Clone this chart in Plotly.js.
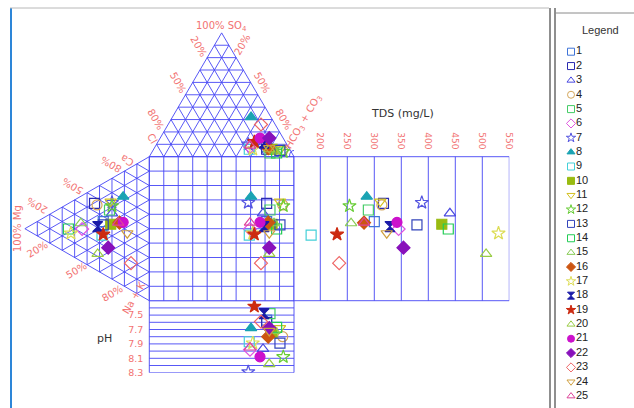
<!DOCTYPE html>
<html><head><meta charset="utf-8">
<script src="https://cdn.plot.ly/plotly-3.0.1.min.js"></script>
<style>html,body{margin:0;padding:0;background:#fff}#chart{width:634px;height:408px}</style>
</head><body><div id="chart"></div>
<script>
// ---- data (percent of meq, TDS mg/L, pH) ----
const samples = ['1','2','3','4','5','6','7','8','9','10','11','12','13','14','15','16','17','18','19','20','21','22','23','24','25'];
const hco3 = [77.1,78.1,73.6,89.7,81.9,65.6,63.4,54.3,66.1,81.8,87.3,90.6,87.8,86.5,83.7,78.7,68.5,73.8,66.6,79.9,69.0,75.4,64.2,79.4,65.1];
const so4  = [8,6,10,5,3,8,10,32,6,6,6,4,5,3,5,7,6,11,12,6,15,15,26,7,9];
const cl   = [14.9,15.9,16.4,5.3,15.1,26.4,26.6,13.7,27.9,12.2,6.7,5.4,7.2,10.5,11.3,14.3,25.5,15.2,21.4,14.1,16.0,9.6,9.8,13.6,25.9];
const ca   = [36.4,45.6,45.7,45.5,47.0,22.8,53.1,61.7,26.6,37.6,53.3,50.8,34.1,17.3,26.3,42.2,15.3,30.7,27.6,11.7,43.9,20.3,18.7,38.0,41.7];
const mg   = [37,44,30,42,32,54,30,21,38,31,31,30,37,65,55,24,63,41.5,37,41.5,21,33,14.7,17.7,25];
const nak  = [26.6,10.4,24.3,12.5,21.0,23.2,16.9,17.3,35.4,31.4,15.7,19.2,28.9,17.7,18.7,33.8,21.7,27.8,35.4,46.8,35.1,46.7,66.6,44.3,33.3];
const tds  = [300,317,440,314,289,345,388,286,183,425,311,254,379,437,257,281,530,329,231,507,342,354,235,323,281];
const ph   = [7.57,7.60,7.97,7.80,7.48,7.98,8.29,7.68,7.87,7.75,7.68,8.08,7.89,7.67,7.72,7.80,7.89,7.48,7.38,8.18,8.08,7.68,7.59,7.72,7.95];
const tdsTicks = [200,250,300,350,400,450,500,550];
const phTicks = [7.5,7.7,7.9,8.1,8.3];

// ---- styles ----
const symbols = ['square-open','square-open','triangle-up-open','circle-open','square-open','diamond-open','star-open','triangle-up','square-open','square',
  'triangle-down-open','star-open','square-open','square-open','triangle-up-open','diamond','star-open','hourglass','star','triangle-up-open',
  'circle','diamond','diamond-open','triangle-down-open','triangle-up-open'];
const colors = ['#3f74d8','#2a2ab0','#4a4ae0','#d4a65a','#44cc66','#e055e0','#5555e0','#1aa3b3','#44d0d8','#99bb11',
  '#d4c020','#66cc33','#3344bb','#22cc55','#88cc55','#cc5511','#dddd55','#1a1aa8','#cc2a10','#99cc44',
  '#cc11cc','#8811bb','#ee6666','#d0a040','#dd4499'];
const salmon = '#f27272';
const gridCol = 'rgba(70,70,245,0.9)';
const TH = 86; // triangle height in square units

function markerSize(s){ return 10; }

// ---- geometry ----
function topTri(i){ const s=cl[i]+so4[i]+hco3[i]; return [ (hco3[i]+so4[i]/2)/s*100, 100+TH*so4[i]/s ]; }
function leftTri(i){ const s=ca[i]+mg[i]+nak[i]; return [ -TH*mg[i]/s, (ca[i]+mg[i]/2)/s*100 ]; }

// ---- grids ----
const g={x:[],y:[]};
function seg(a,x0,y0,x1,y1){a.x.push(x0,x1,null);a.y.push(y0,y1,null);}
for(let k=0;k<=10;k++){
  const v=k*10, w=100-v;
  seg(g,v,0,v,100); seg(g,0,v,100,v);
  seg(g,v/2,100+TH*v/100,100-v/2,100+TH*v/100);
  seg(g,100-v,100,(100-v)/2,100+TH*(100-v)/100);
  seg(g,v,100,v+w/2,100+TH*w/100);
  seg(g,-TH*v/100,v/2,-TH*v/100,100-v/2);
  seg(g,0,v,-TH*w/100,v+w/2);
  seg(g,0,100-v,-TH*w/100,w/2);
}
const gt={x:[],y:[]};
for(let t=150;t<=550;t+=50) seg(gt,t,0,t,100);
seg(gt,150,0,550,0); seg(gt,150,100,550,100);
const gp={x:[],y:[]};
for(let k=0;k<=10;k++){ const p=7.3+k/10; seg(gp,0,p,100,p); }
seg(gp,0,7.3,0,8.3); seg(gp,100,7.3,100,8.3);

const traces=[
 {x:g.x,y:g.y,mode:'lines',line:{color:gridCol,width:1},hoverinfo:'skip',showlegend:false,xaxis:'x',yaxis:'y'},
 {x:gt.x,y:gt.y,mode:'lines',line:{color:gridCol,width:1},hoverinfo:'skip',showlegend:false,xaxis:'x2',yaxis:'y'},
 {x:gp.x,y:gp.y,mode:'lines',line:{color:gridCol,width:1},hoverinfo:'skip',showlegend:false,xaxis:'x',yaxis:'y2'}
];

for(let i=0;i<samples.length;i++){
  const a=topTri(i), c=leftTri(i);
  const m={symbol:symbols[i],color:colors[i],size:markerSize(symbols[i]),line:{color:colors[i],width:1.2}};
  traces.push({x:[a[0],c[0],a[0]],y:[a[1],c[1],c[1]],mode:'markers',marker:m,name:samples[i],showlegend:false,xaxis:'x',yaxis:'y'});
  traces.push({x:[tds[i]],y:[c[1]],mode:'markers',marker:m,showlegend:false,xaxis:'x2',yaxis:'y'});
  traces.push({x:[a[0]],y:[ph[i]],mode:'markers',marker:m,showlegend:false,xaxis:'x',yaxis:'y2'});
}
// manual legend
const idx = samples.map((s,i)=>i+1);
traces.push({x:samples.map(()=>15),y:idx,mode:'markers',marker:{symbol:symbols,color:colors,size:7,line:{color:colors,width:1}},showlegend:false,hoverinfo:'skip',xaxis:'x3',yaxis:'y3'});
traces.push({x:samples.map(()=>20),y:idx,mode:'text',text:samples,textposition:'middle right',textfont:{family:'Liberation Sans Narrow, Liberation Sans, Arial',size:11,color:'#222'},showlegend:false,hoverinfo:'skip',xaxis:'x3',yaxis:'y3'});

const W=634,H=408;
function PX(x){return x/W;} function PY(y){return 1-y/H;}
function lab(text,px,py,angle,opts){
  opts=opts||{};
  return {text:text,x:PX(px),y:PY(py),xref:'paper',yref:'paper',showarrow:false,textangle:angle,
    font:{family:'DejaVu Sans, Verdana, sans-serif',size:opts.size||10,color:opts.color||salmon},xanchor:'center',yanchor:'middle'};
}
const annotations=[
 lab('100% SO<sub>4</sub>',221,27,0),
 lab('20%',199,46,60), lab('50%',178,82.5,60), lab('80%',156,119,60), lab('Cl',152.5,138,60),
 lab('20%',241.5,45,-60), lab('50%',262,82.5,60), lab('80%',284,119,60),
 lab('HCO<sub>3</sub> + CO<sub>3</sub>',303,122,-60),
 lab('100% Mg',17,229,-90),
 lab('20%',37,206,-150), lab('50%',73.5,186,-150), lab('80%',111,165,-150), lab('Ca',127.5,160,-150),
 lab('20%',37,249,-30), lab('50%',76,270,-30), lab('80%',112,293,-30), lab('Na + K',133,298,-60),
 lab('TDS (mg/L)',402,113,0,{size:11,color:'#333'}),
 lab('pH',104,338,0,{size:11,color:'#333'}),
 {text:'Legend',x:PX(600),y:PY(30),xref:'paper',yref:'paper',showarrow:false,font:{family:'Liberation Sans, Arial',size:11,color:'#333'},xanchor:'center',yanchor:'middle'}
];

function pline(x0,y0,x1,y1,col,w){return {type:'line',xref:'paper',yref:'paper',x0:PX(x0),y0:PY(y0),x1:PX(x1),y1:PY(y1),line:{color:col,width:w}};}
const ux=(px)=>(px-149.3)/1.447, uy=(py)=>(300.7-py)/1.44;
const shapes=[
 pline(11,8,11,408,'#2d86d8',2),
 pline(10,8,549,8,'#b8b8b8',1),
 pline(550,8,550,408,'#6a6a6a',1.5),
 pline(555,8,555,408,'#6a6a6a',1.5),
 pline(555,13,634,13,'#8a8a8a',1),
 {type:'path',xref:'x',yref:'y',path:'M '+ux(289.5)+',100 Q '+ux(289.5)+','+uy(150.5)+' 100,'+uy(150.5),line:{color:gridCol,width:1}}
];

const layout={
 width:W,height:H,margin:{l:0,r:0,t:0,b:0},paper_bgcolor:'#fff',plot_bgcolor:'rgba(0,0,0,0)',
 showlegend:false,hovermode:false,
 xaxis:{domain:[0,1],range:[ux(0),ux(634)],visible:false,fixedrange:true},
 yaxis:{domain:[0,1],range:[uy(408),uy(0)],visible:false,fixedrange:true},
 xaxis2:{domain:[293.3/W,509.3/W],range:[150,550],anchor:'free',position:PY(156.7),side:'top',
   tickvals:tdsTicks,ticktext:tdsTicks.map(String),tickangle:90,ticks:'outside',ticklen:4,tickcolor:'rgba(0,0,0,0)',
   tickfont:{family:'DejaVu Sans, Verdana, sans-serif',size:9,color:salmon},showgrid:false,zeroline:false,showline:false,fixedrange:true},
 yaxis2:{domain:[PY(372.7),PY(300.7)],range:[8.3,7.3],anchor:'free',position:PX(149.3),side:'left',
   tickvals:phTicks,ticktext:phTicks.map(v=>v.toFixed(1)),ticks:'outside',ticklen:4,tickcolor:'rgba(0,0,0,0)',
   tickfont:{family:'DejaVu Sans, Verdana, sans-serif',size:9.5,color:salmon},showgrid:false,zeroline:false,showline:false,fixedrange:true},
 xaxis3:{domain:[556/W,1],range:[0,78],visible:false,anchor:'y3',fixedrange:true},
 yaxis3:{domain:[0,1],range:[(408-51.7)/14.35+1,(0-51.7)/14.35+1],visible:false,anchor:'x3',fixedrange:true},
 annotations:annotations,shapes:shapes
};
Plotly.newPlot('chart',traces,layout,{displayModeBar:false,staticPlot:true});
</script></body></html>
